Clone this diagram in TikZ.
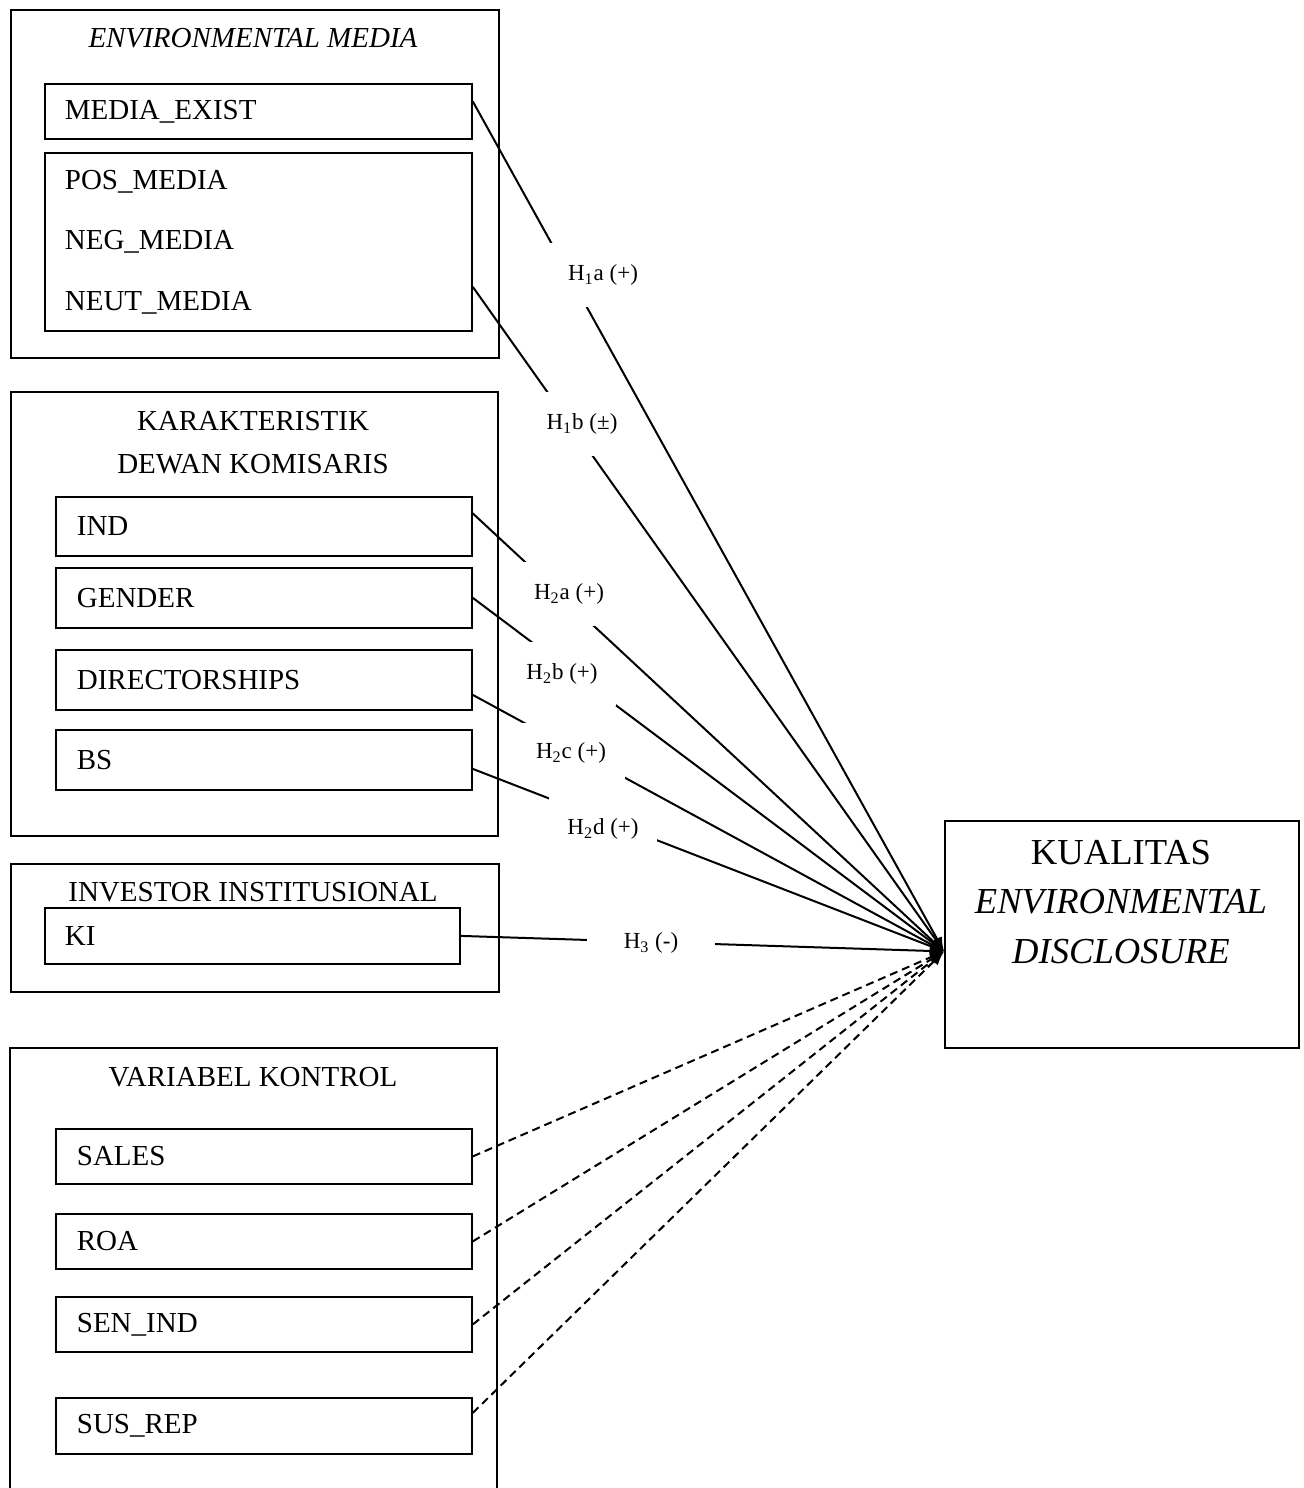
\documentclass[tikz,border=0pt]{standalone}
\usepackage{fontspec}
\setmainfont{Liberation Serif}
\usetikzlibrary{arrows.meta, calc, positioning}

\tikzset{
  group/.style={draw, line width=0.9pt, anchor=north west, inner sep=0pt},
  item/.style={draw, line width=0.9pt, anchor=north west, align=left, inner ysep=0pt,
    font=\fontsize{14.5}{30.25}\selectfont},
  heading/.style={align=center, inner sep=0pt, font=\fontsize{14.5}{21.5}\selectfont},
  hline/.style={line width=1pt, -{Latex[length=7pt, width=5.5pt]}},
  cline/.style={hline, dash pattern=on 4pt off 2.5pt},
  hyp/.style={fill=white, inner sep=0pt, minimum width=54pt, minimum height=32pt,
    font=\fontsize{11.5}{13}\selectfont}
}

\begin{document}
\begin{tikzpicture}[x=0.5pt, y=-0.5pt]

  \useasboundingbox (0,0) rectangle (1304,1488);

  % outer groups
  \node[group, minimum width=244pt, minimum height=174pt] (envgroup) at (10,9) {};
  \node[group, minimum width=243.5pt, minimum height=222pt] (boardgroup) at (10,391) {};
  \node[group, minimum width=244pt, minimum height=64pt] (instgroup) at (10,863) {};
  \draw[line width=0.9pt] (10,1492) |- (497,1048) -- (497,1492);

  \node[heading] (envtitle) at (253,38) {\textit{ENVIRONMENTAL MEDIA}};
  \node[heading] (boardtitle) at (253,443) {KARAKTERISTIK\\DEWAN KOMISARIS};
  \node[heading] (insttitle) at (253,892) {INVESTOR INSTITUSIONAL};
  \node[heading] (ctrltitle) at (253,1077) {VARIABEL KONTROL};

  % variables
  \node[item, text width=193.5pt, inner xsep=10pt, minimum height=27.5pt] (mediaexist) at (44,83) {MEDIA\_EXIST};
  \node[item, text width=193.5pt, inner xsep=10pt, minimum height=89pt] (mediatone) at (44,152) {POS\_MEDIA\\NEG\_MEDIA\\NEUT\_MEDIA};

  \node[item, text width=187pt, inner xsep=10.5pt, minimum height=29.5pt] (ind) at (55,496) {IND};
  \node[item, text width=187pt, inner xsep=10.5pt, minimum height=30pt] (gender) at (55,567) {GENDER};
  \node[item, text width=187pt, inner xsep=10.5pt, minimum height=30pt] (direct) at (55,649) {DIRECTORSHIPS};
  \node[item, text width=187pt, inner xsep=10.5pt, minimum height=30pt] (bs) at (55,729) {BS};

  \node[item, text width=187.5pt, inner xsep=10pt, minimum height=28pt] (ki) at (44,907) {KI};

  \node[item, text width=187pt, inner xsep=10.5pt, minimum height=27.5pt] (sales) at (55,1128) {SALES};
  \node[item, text width=187pt, inner xsep=10.5pt, minimum height=27.5pt] (roa) at (55,1213) {ROA};
  \node[item, text width=187pt, inner xsep=10.5pt, minimum height=27.5pt] (senind) at (55,1296) {SEN\_IND};
  \node[item, text width=187pt, inner xsep=10.5pt, minimum height=28pt] (susrep) at (55,1397) {SUS\_REP};

  % dependent variable
  \node[group, minimum width=177pt, minimum height=113.5pt] (kual) at (944,820) {};
  \node[align=center, inner sep=0pt, font=\fontsize{18.3}{24.75}\selectfont] (kualtext) at (1121,902)
    {KUALITAS\\\textit{ENVIRONMENTAL}\\\textit{DISCLOSURE}};

  \coordinate (tip) at ($(kual.west)+(0,17)$);

  % control paths
  \draw[cline] (susrep.east) ++(0,6.5pt) -- (tip);
  \draw[cline] (senind.east) -- (tip);
  \draw[cline] (roa.east) -- (tip);
  \draw[cline] (sales.east) -- (tip);

  % hypotheses, bottom to top
  \draw[hline] (ki.east) -- (tip);
  \node[hyp, minimum width=64pt] (h3) at (651,943) {H\textsubscript{3} (-)};
  \draw[hline] ([yshift=-4.5pt]bs.east) -- (tip);
  \node[hyp] (h2d) at (603,829) {H\textsubscript{2}d (+)};
  \draw[hline] ([yshift=-7.5pt]direct.east) -- (tip);
  \node[hyp, minimum height=30pt] (h2c) at (571,753) {H\textsubscript{2}c (+)};
  \draw[hline] (gender.east) -- (tip);
  \node[hyp] (h2b) at (562,674) {H\textsubscript{2}b (+)};
  \draw[hline] ([yshift=6.5pt]ind.east) -- (tip);
  \node[hyp] (h2a) at (569,594) {H\textsubscript{2}a (+)};
  \draw[hline] ($(mediatone.east)!0.5!(mediatone.south east)$) -- (tip);
  \node[hyp] (h1b) at (582,424) {H\textsubscript{1}b (±)};
  \draw[hline] ([yshift=5pt]mediaexist.east) -- (tip);
  \node[hyp] (h1a) at (603,275) {H\textsubscript{1}a (+)};

\end{tikzpicture}
\end{document}
